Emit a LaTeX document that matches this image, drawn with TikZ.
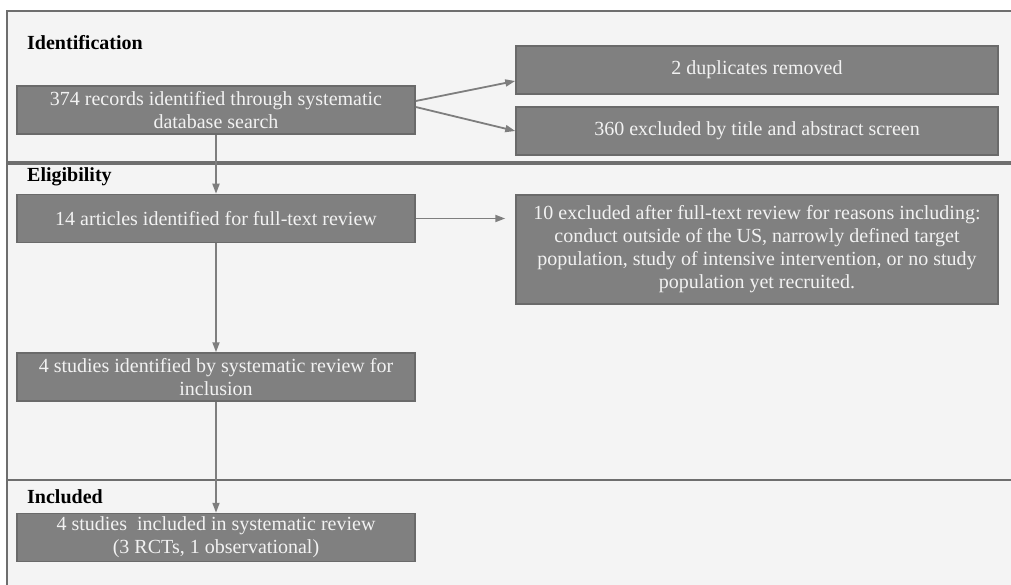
\documentclass[tikz,border=0pt]{standalone}
\usepackage{fontspec}
\setmainfont{Liberation Serif}
\usepackage{tikz}
\usetikzlibrary{shapes.geometric, arrows.meta, positioning}
\definecolor{boxgray}{HTML}{808080}
\definecolor{edgegray}{HTML}{6A6A6A}
\definecolor{boxtext}{HTML}{F2F2F2}
\definecolor{panelgray}{HTML}{F4F4F4}
\definecolor{framegray}{HTML}{6E6E6E}
\definecolor{linegray}{HTML}{7E7E7E}
\tikzstyle{process} = [rectangle, minimum width=398pt, minimum height=48pt, align=center, draw=edgegray, line width=1.5pt, fill=boxgray, text=boxtext, inner sep=2pt, font=\fontsize{20}{23}\selectfont]
\tikzstyle{exclude} = [process, minimum width=482pt]
\tikzstyle{heading} = [anchor=west, inner sep=0pt, font=\fontsize{20}{23}\selectfont\bfseries]
\tikzstyle{arrow} = [-{Triangle[length=10pt, width=7pt]}, draw=linegray, fill=linegray, line width=1.8pt]

\begin{document}
\begin{tikzpicture}[x=1pt, y=-1pt]

\useasboundingbox (0,0) rectangle (1011,585);
\fill [white] (0,0) rectangle (1011,585);
\fill [panelgray] (7,11) rectangle (1011,585);
\draw [framegray, line width=2pt] (1011,11) -- (7,11) -- (7,585);
\draw [framegray, line width=3.5pt] (7,163) -- (1011,163);
\draw [framegray, line width=2pt] (7,480) -- (1011,480);

\node (idhead) [heading] at (27,43) {Identification};
\node (elhead) [heading] at (27,177) {Eligibility};
\node (inhead) [heading] at (27,497) {Included};

\node (records) [process] at (216,110) {374 records identified through systematic\\database search};
\node (articles) [process, below=59pt of records] {14 articles identified for full-text review};
\node (studies) [process, below=109pt of articles] {4 studies identified by systematic review for\\inclusion};
\node (included) [process, below=111pt of studies] {4 studies\ \ included in systematic review\\(3 RCTs, 1 observational)};

\node (dups) [exclude] at (757,70) {2 duplicates removed};
\node (screen) [exclude] at (757,131) {360 excluded by title and abstract screen};
\node (fulltext) [exclude, minimum height=109pt] at (757,249.5) {10 excluded after full-text review for reasons including:\\conduct outside of the US, narrowly defined target\\population, study of intensive intervention, or no study\\population yet recruited.};

\draw [arrow] ([yshift=9pt]records.east) -- ([yshift=-11pt]dups.west);
\draw [arrow] ([yshift=3pt]records.east) -- (screen.west);
\draw [arrow] (records) -- (articles);
\draw [arrow, shorten >=10pt] (articles.east) -- (articles.east -| fulltext.west);
\draw [arrow] (articles) -- (studies);
\draw [arrow] (studies) -- (included);

\end{tikzpicture}
\end{document}
